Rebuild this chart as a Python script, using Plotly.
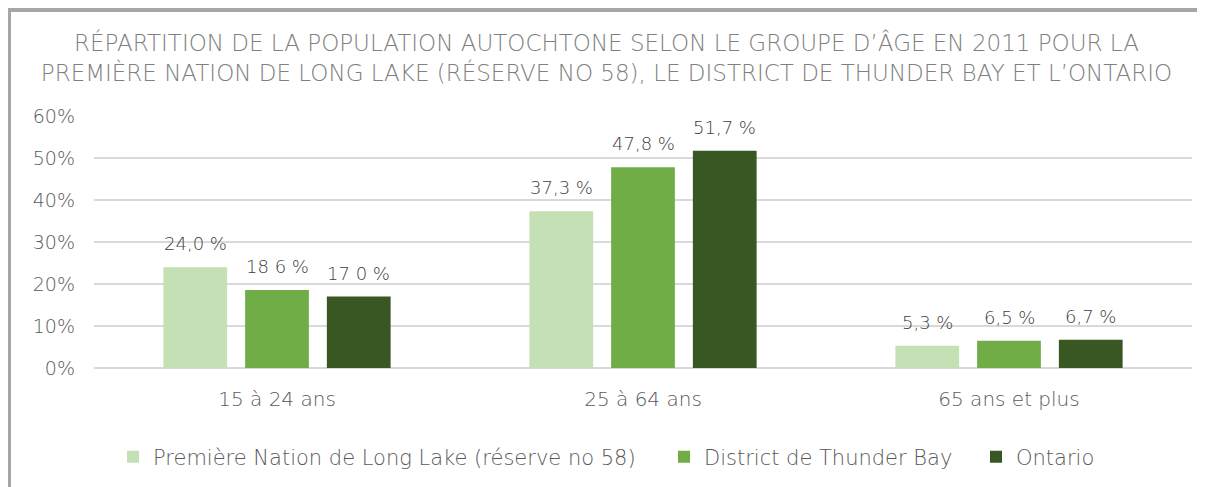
import plotly.graph_objects as go

categories = ["15 à 24 ans", "25 à 64 ans", "65 ans et plus"]
series_names = ["Première Nation de Long Lake (réserve no 58)", "District de Thunder Bay", "Ontario"]
long_lake = [24.0, 37.3, 5.3]
thunder_bay = [18.6, 47.8, 6.5]
ontario = [17.0, 51.7, 6.7]
long_lake_labels = ["24,0 %", "37,3 %", "5,3 %"]
thunder_bay_labels = ["18 6 %", "47,8 %", "6,5 %"]
ontario_labels = ["17 0 %", "51,7 %", "6,7 %"]
colors = ["#c5e0b4", "#70ad47", "#385723"]
title_text = ("RÉPARTITION DE LA POPULATION AUTOCHTONE SELON LE GROUPE D’ÂGE EN 2011 POUR LA<br>"
              "PREMIÈRE NATION DE LONG LAKE (RÉSERVE NO 58), LE DISTRICT DE THUNDER BAY ET L’ONTARIO")

FONT = "DejaVu Sans"
WEIGHT = 200

OFF = 8  # page body margin
W, H = 1205 - OFF, 487 - OFF
L, R, T, B = 94 - OFF, 13, 116 - OFF, 119
pw, ph = W - L - R, H - T - B
def px(x): return (x - OFF - L) / pw
def py(y): return (H - B - (y - OFF)) / ph

BARGAP, GROUPGAP = 0.33, 0.22
slot = pw / len(categories) * (1 - BARGAP) / 3

fig = go.Figure()
legend_ids = ["legend", "legend2", "legend3"]
annotations = []
all_vals = [long_lake, thunder_bay, ontario]
all_labs = [long_lake_labels, thunder_bay_labels, ontario_labels]
for i, (name, vals, labs, col) in enumerate(zip(series_names, all_vals, all_labs, colors)):
    fig.add_trace(go.Bar(x=categories, y=vals, name=name, legend=legend_ids[i],
                         marker=dict(color=col, line=dict(width=0))))
    for c, v, t in zip(categories, vals, labs):
        annotations.append(dict(x=c, y=v, xref="x", yref="y", text=t, showarrow=False,
                                xanchor="center", yanchor="bottom",
                                xshift=(i - 1) * slot, yshift=11,
                                font=dict(size=18, color="#404040", family=FONT, weight=WEIGHT)))

legfont = dict(size=21, color="#595959", family=FONT, weight=WEIGHT)
leg_x = [113, 664, 976]
legends = {}
for lid, lx in zip(legend_ids, leg_x):
    legends[lid] = dict(orientation="h", x=px(lx), xanchor="left", y=py(457), yanchor="middle",
                        font=legfont, itemwidth=30, bgcolor="rgba(0,0,0,0)")

fig.update_layout(
    width=W, height=H,
    margin=dict(l=L, r=R, t=T, b=B, autoexpand=False),
    paper_bgcolor="white", plot_bgcolor="white",
    barmode="group", bargap=BARGAP, bargroupgap=GROUPGAP,
    title=dict(text=title_text, x=0.5, xanchor="center", y=1 - (51 - OFF) / H, yanchor="middle",
               font=dict(family=FONT, size=23, color="#808080", weight=WEIGHT)),
    font=dict(family=FONT, size=18, color="#595959", weight=WEIGHT),
    showlegend=True,
    annotations=annotations,
    xaxis=dict(showgrid=False, showline=False, ticks="", ticklabelstandoff=17,
               tickfont=dict(size=20, color="#595959", family=FONT, weight=WEIGHT)),
    yaxis=dict(range=[0, 60], dtick=10, ticksuffix="%", showgrid=True, gridcolor="#d9d9d9",
               gridwidth=1.5, zeroline=True, zerolinecolor="#d9d9d9", zerolinewidth=1.5,
               ticklabelstandoff=18, tickfont=dict(size=19, color="#595959", family=FONT, weight=WEIGHT)),
    shapes=[
        dict(type="rect", xref="paper", yref="paper", x0=px(-5), x1=px(1215), y0=py(12), y1=py(8),
             fillcolor="#a5a7a7", line=dict(width=0), layer="above"),
        dict(type="rect", xref="paper", yref="paper", x0=px(6), x1=px(11), y0=py(495), y1=py(8),
             fillcolor="#a5a7a7", line=dict(width=0), layer="above"),
    ],
    **legends,
)
fig.write_html("out.html")
